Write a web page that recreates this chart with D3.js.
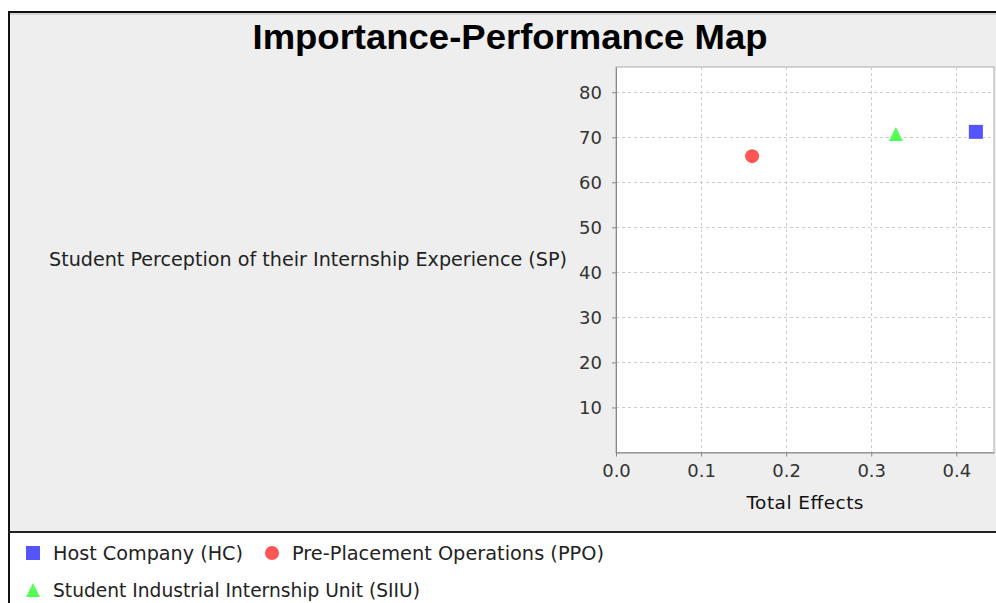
<!DOCTYPE html>
<html>
<head>
<meta charset="utf-8">
<script src="https://cdn.jsdelivr.net/npm/d3@7"></script>
<style>
html,body{margin:0;padding:0;background:#fff;}
svg{display:block;}
</style>
</head>
<body>
<script>
// ---- data ----
const seriesNames = ["Host Company (HC)", "Pre-Placement Operations (PPO)", "Student Industrial Internship Unit (SIIU)"];
const seriesShapes = ["square", "circle", "triangle"];
const seriesColors = ["#5555FF", "#FF5555", "#55FF55"];
const totalEffects = [0.423, 0.160, 0.329];
const performance = [71.2, 65.8, 70.7];
const xTicks = [0.0, 0.1, 0.2, 0.3, 0.4];
const yTicks = [10, 20, 30, 40, 50, 60, 70, 80];
const xDomain = [0, 0.4443];
const yDomain = [0, 85.6];
const chartTitle = "Importance-Performance Map";
const xLabel = "Total Effects";
const yLabel = "Student Perception of their Internship Experience (SP)";

const W = 996, H = 603;
const svg = d3.select("body").append("svg").attr("width", W).attr("height", H);

// chart frame (gray area) and legend area
svg.append("rect").attr("x", 0).attr("y", 0).attr("width", W).attr("height", H).attr("fill", "#fff");
svg.append("rect").attr("x", 10).attr("y", 13).attr("width", W).attr("height", 518).attr("fill", "#EEEEEE");
svg.append("line").attr("x1", 8).attr("x2", W).attr("y1", 12).attr("y2", 12).attr("stroke", "#111").attr("stroke-width", 2);
svg.append("line").attr("x1", 10).attr("x2", W).attr("y1", 14).attr("y2", 14).attr("stroke", "#bbb").attr("stroke-width", 1);
svg.append("line").attr("x1", 9).attr("x2", 9).attr("y1", 11).attr("y2", H).attr("stroke", "#111").attr("stroke-width", 2);
svg.append("line").attr("x1", 8).attr("x2", W).attr("y1", 532).attr("y2", 532).attr("stroke", "#222").attr("stroke-width", 2);

// title
svg.append("text").attr("x", 510).attr("y", 48.5)
  .attr("text-anchor", "middle")
  .attr("font-family", "'Liberation Sans', Arial, sans-serif")
  .attr("font-weight", "bold").attr("font-size", 35)
  .attr("textLength", 515).attr("lengthAdjust", "spacingAndGlyphs")
  .attr("fill", "#000").text(chartTitle);

// plot area
const pl = 616, pr = 994, pt = 67, pb = 452.5;
const x = d3.scaleLinear().domain(xDomain).range([pl, pr]);
const y = d3.scaleLinear().domain(yDomain).range([pb, pt]);

svg.append("rect").attr("x", pl).attr("y", pt).attr("width", pr - pl).attr("height", pb - pt)
  .attr("fill", "#fff").attr("stroke", "#aaa").attr("stroke-width", 1);

// gridlines
const grid = svg.append("g").attr("stroke", "#cccccc").attr("stroke-width", 1).attr("stroke-dasharray", "3,3");
grid.selectAll(".gx").data(xTicks.filter(d => d > 0)).join("line")
  .attr("x1", d => Math.round(x(d)) + 0.5).attr("x2", d => Math.round(x(d)) + 0.5)
  .attr("y1", pt).attr("y2", pb);
grid.selectAll(".gy").data(yTicks).join("line")
  .attr("x1", pl).attr("x2", pr)
  .attr("y1", d => Math.round(y(d)) + 0.5).attr("y2", d => Math.round(y(d)) + 0.5);

// axes
const tickFont = "'DejaVu Sans', Verdana, sans-serif";
const xAxis = svg.append("g").attr("transform", `translate(0,${pb})`)
  .call(d3.axisBottom(x).tickValues(xTicks).tickFormat(d3.format(".1f")).tickSizeInner(4).tickSizeOuter(0).tickPadding(8));
const yAxis = svg.append("g").attr("transform", `translate(${pl},0)`)
  .call(d3.axisLeft(y).tickValues(yTicks).tickFormat(d3.format("d")).tickSizeInner(4).tickSizeOuter(0).tickPadding(10));
[xAxis, yAxis].forEach(a => {
  a.select(".domain").attr("stroke", "#888");
  a.selectAll(".tick line").attr("stroke", "#888");
  a.selectAll(".tick text").attr("font-family", tickFont).attr("font-size", 18).attr("fill", "#333");
});
yAxis.selectAll(".tick text").attr("dy", "0.36em");

// axis labels
svg.append("text").attr("x", (pl + pr) / 2).attr("y", 509)
  .attr("text-anchor", "middle").attr("font-family", tickFont).attr("font-size", 18.5)
  .attr("textLength", 117).attr("lengthAdjust", "spacing")
  .attr("fill", "#111").text(xLabel);
svg.append("text").attr("x", 567).attr("y", 266)
  .attr("text-anchor", "end").attr("font-family", tickFont).attr("font-size", 19)
  .attr("textLength", 518).attr("lengthAdjust", "spacingAndGlyphs")
  .attr("fill", "#222").text(yLabel);

// symbols
function drawShape(g, shape, cx, cy, color) {
  if (shape === "square") {
    g.append("rect").attr("x", cx - 7).attr("y", cy - 7).attr("width", 14).attr("height", 14).attr("fill", color);
  } else if (shape === "circle") {
    g.append("circle").attr("cx", cx).attr("cy", cy).attr("r", 7).attr("fill", color);
  } else {
    g.append("path").attr("d", `M${cx},${cy - 7}L${cx + 7},${cy + 7}L${cx - 7},${cy + 7}Z`).attr("fill", color);
  }
}

const pts = svg.append("g");
seriesNames.forEach((n, i) => {
  drawShape(pts, seriesShapes[i], x(totalEffects[i]), y(performance[i]), seriesColors[i]);
});

// legend
const legendPos = [[33, 553], [272, 553], [33, 590]];
const legendLen = [190, 312, 367];
const leg = svg.append("g");
seriesNames.forEach((n, i) => {
  const [lx, ly] = legendPos[i];
  drawShape(leg, seriesShapes[i], lx, ly, seriesColors[i]);
  leg.append("text").attr("x", lx + 20).attr("y", ly + 7)
    .attr("font-family", tickFont).attr("font-size", 19).attr("fill", "#222")
    .attr("textLength", legendLen[i]).attr("lengthAdjust", "spacingAndGlyphs").text(n);
});
</script>
</body>
</html>
